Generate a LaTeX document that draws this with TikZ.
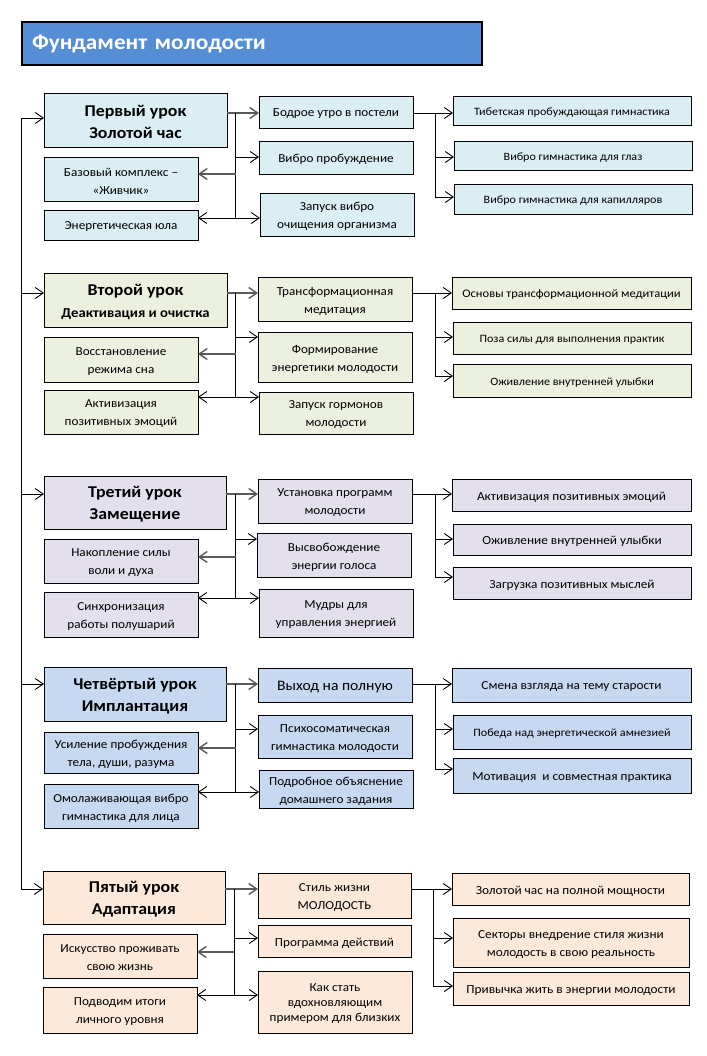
\documentclass[tikz,border=0pt]{standalone}
\usepackage{fontspec}
\setmainfont{Carlito}[FakeStretch=1.08]
\usetikzlibrary{arrows.meta}
\definecolor{ttl}{RGB}{85,142,213}
\definecolor{cA}{HTML}{DAEEF3}
\definecolor{cB}{HTML}{EBF1DE}
\definecolor{cC}{HTML}{E4DFEC}
\definecolor{cD}{HTML}{C6D9F1}
\definecolor{cE}{HTML}{FDE9D9}
\tikzset{
 bx/.style={draw=black, line width=0.9pt, inner sep=1pt, outer sep=0pt, align=center, text=black, font=\fontsize{12.2}{18}\selectfont},
 lesson/.style={bx, font=\bfseries\fontsize{16.5}{22}\selectfont},
 rsm/.style={bx, font=\fontsize{11.2}{17}\selectfont},
 rlg/.style={bx, font=\fontsize{12.3}{18.5}\selectfont},
 lnk/.style={draw=black, line width=0.9pt},
 thk/.style={draw=black!65, line width=1.4pt},
 arr/.style={lnk, -{Straight Barb[length=8pt,width=11pt]}},
 arrthk/.style={thk, -{Straight Barb[length=8pt,width=11pt]}},
 titlebox/.style={draw=black, line width=1.2pt, fill=ttl, text=white, inner xsep=10pt, inner ysep=0pt, outer sep=0pt, text width=440pt, align=left, minimum height=43pt, font=\bfseries\fontsize{21.5}{26}\selectfont}
}
\newcommand{\mybox}[7]{\node[#6, minimum width={(#4-(#2))*1pt}, minimum height={(#5-(#3))*1pt}] (#1) at ({(#2+#4)/2},{(#3+#5)/2}) {};
 \node[#6, draw=none, fill=none] (#1t) at ([yshift=-2pt]#1.center) {#7};}
\newcommand{\conns}[8]{%
 \coordinate (a#1) at (\vx,#2);
 \coordinate (b#1) at (\vx,#3);
 \coordinate (c#1) at (\vx,#4);
 \coordinate (d#1) at (\vx,#5);
 \coordinate (e#1) at (\rx,#2);
 \coordinate (f#1) at (\rx,#6);
 \coordinate (g#1) at (\rx,#7);
 \coordinate (t#1) at (21,#8);
 \draw[arrthk] (L#1.east |- a#1) -- (M#1a.west |- a#1);
 \draw[lnk] (a#1) -- (c#1);
 \draw[arr] (b#1) -- (M#1b.west |- b#1);
 \draw[arr] (c#1) -- (M#1c.west |- c#1);
 \draw[arrthk] (d#1) -- (S#1a.east |- d#1);
 \draw[arr] (c#1) -- (S#1b.east |- c#1);
 \draw[arr] (M#1a.east |- e#1) -- (R#1a.west |- e#1);
 \draw[lnk] (e#1) -- (g#1);
 \draw[arr] (f#1) -- (R#1b.west |- f#1);
 \draw[arr] (g#1) -- (R#1c.west |- g#1);
 \draw[arr] (t#1) -- (L#1.west |- t#1);
}
\begin{document}
\begin{tikzpicture}[x=1pt,y=-1pt]
\useasboundingbox (0,0) rectangle (706,1056);
\fill[white] (0,0) rectangle (706,1056);
\node[titlebox] (T) at (252,43.5) {Фундамент молодости};

% Section 1
\mybox{L1}{44}{93}{227}{147}{lesson,fill=cA}{Первый урок\\Золотой час}
\mybox{S1a}{44}{157}{198}{201}{bx,fill=cA}{Базовый комплекс –\\«Живчик»}
\mybox{S1b}{44}{210}{198}{240}{bx,fill=cA}{Энергетическая юла}
\mybox{M1a}{259}{96}{413}{128}{bx,fill=cA}{Бодрое утро в постели}
\mybox{M1b}{259}{141}{413}{174}{bx,fill=cA}{Вибро пробуждение}
\mybox{M1c}{260}{193}{414}{236}{bx,fill=cA}{Запуск вибро\\очищения организма}
\mybox{R1a}{453}{96}{691}{125}{rsm,fill=cA}{Тибетская пробуждающая гимнастика}
\mybox{R1b}{454}{141}{692}{170}{rsm,fill=cA}{Вибро гимнастика для глаз}
\mybox{R1c}{454}{184}{692}{214}{rsm,fill=cA}{Вибро гимнастика для капилляров}

% Section 2
\mybox{L2}{44}{273}{227}{327}{lesson,fill=cB}{Второй урок\\{\fontsize{13.6}{22}\selectfont Деактивация и очистка}}
\mybox{S2a}{44}{337}{198}{382}{bx,fill=cB}{Восстановление\\режима сна}
\mybox{S2b}{44}{390}{198}{434}{bx,fill=cB}{Активизация\\позитивных эмоций}
\mybox{M2a}{258}{277}{412}{321}{bx,fill=cB}{Трансформационная\\медитация}
\mybox{M2b}{258}{332}{412}{382}{bx,fill=cB}{Формирование\\энергетики молодости}
\mybox{M2c}{259}{392}{413}{434}{bx,fill=cB}{Запуск гормонов\\молодости}
\mybox{R2a}{452}{277}{691}{309}{rsm,fill=cB,font=\fontsize{11.6}{17}\selectfont}{Основы трансформационной медитации}
\mybox{R2b}{453}{322}{691}{354}{rsm,fill=cB}{Поза силы для выполнения практик}
\mybox{R2c}{453}{364}{691}{397}{rsm,fill=cB}{Оживление внутренней улыбки}

% Section 3
\mybox{L3}{44}{476}{226}{529}{lesson,fill=cC}{Третий урок\\Замещение}
\mybox{S3a}{44}{539}{198}{583}{bx,fill=cC}{Накопление силы\\воли и духа}
\mybox{S3b}{44}{592}{198}{637}{bx,fill=cC}{Синхронизация\\работы полушарий}
\mybox{M3a}{258}{479}{412}{523}{bx,fill=cC}{Установка программ\\молодости}
\mybox{M3b}{257}{533}{411}{577}{bx,fill=cC}{Высвобождение\\энергии голоса}
\mybox{M3c}{259}{589}{413}{637}{bx,fill=cC}{Мудры для\\управления энергией}
\mybox{R3a}{452}{479}{691}{511}{rlg,fill=cC}{Активизация позитивных эмоций}
\mybox{R3b}{453}{524}{691}{555}{rlg,fill=cC}{Оживление внутренней улыбки}
\mybox{R3c}{453}{567}{691}{599}{rlg,fill=cC}{Загрузка позитивных мыслей}

% Section 4
\mybox{L4}{44}{667}{226}{721}{lesson,fill=cD}{Четвёртый урок\\Имплантация}
\mybox{S4a}{44}{732}{198}{773}{bx,fill=cD}{Усиление пробуждения\\тела, души, разума}
\mybox{S4b}{44}{784}{198}{828}{bx,fill=cD}{Омолаживающая вибро\\гимнастика для лица}
\mybox{M4a}{258}{668}{412}{702}{bx,fill=cD,font=\fontsize{14.5}{18}\selectfont}{Выход на полную}
\mybox{M4b}{258}{715}{412}{758}{bx,fill=cD}{Психосоматическая\\гимнастика молодости}
\mybox{M4c}{259}{770}{413}{808}{bx,fill=cD}{Подробное объяснение\\домашнего задания}
\mybox{R4a}{452}{668}{691}{702}{rlg,fill=cD}{Смена взгляда на тему старости}
\mybox{R4b}{453}{715}{691}{749}{rsm,fill=cD}{Победа над энергетической амнезией}
\mybox{R4c}{453}{758}{691}{793}{rlg,fill=cD}{Мотивация\ \ и совместная практика}

% Section 5
\mybox{L5}{43}{871}{225}{924}{lesson,fill=cE}{Пятый урок\\Адаптация}
\mybox{S5a}{43}{934}{197}{978}{bx,fill=cE}{Искусство проживать\\свою жизнь}
\mybox{S5b}{43}{987}{197}{1033}{bx,fill=cE}{Подводим итоги\\личного уровня}
\mybox{M5a}{258}{873}{411}{918}{bx,fill=cE}{Стиль жизни\\МОЛОДОСТЬ}
\mybox{M5b}{258}{925}{411}{957}{bx,fill=cE}{Программа действий}
\mybox{M5c}{258}{971}{412}{1033}{bx,fill=cE,font=\fontsize{12.2}{15}\selectfont}{Как стать\\вдохновляющим\\примером для близких}
\mybox{R5a}{452}{873}{689}{905}{rlg,fill=cE}{Золотой час на полной мощности}
\mybox{R5b}{453}{918}{689}{967}{rlg,fill=cE}{Секторы внедрение стиля жизни\\молодость в свою реальность}
\mybox{R5c}{453}{972}{689}{1005}{rlg,fill=cE}{Привычка жить в энергии молодости}

% connectors
\def\vx{235.5}\def\rx{435}
\conns{1}{113}{157}{218}{174}{157}{197}{118}
\conns{2}{293}{337}{397}{354}{337}{376}{293}
\conns{3}{494}{539}{598}{557}{539}{577}{494}
\conns{4}{684}{729}{792}{748}{729}{769}{684}
\def\vx{234}\def\rx{433}
\conns{5}{889}{938}{995}{952}{938}{986}{889}
\draw[lnk] (t1) -- (t5);
\end{tikzpicture}
\end{document}
